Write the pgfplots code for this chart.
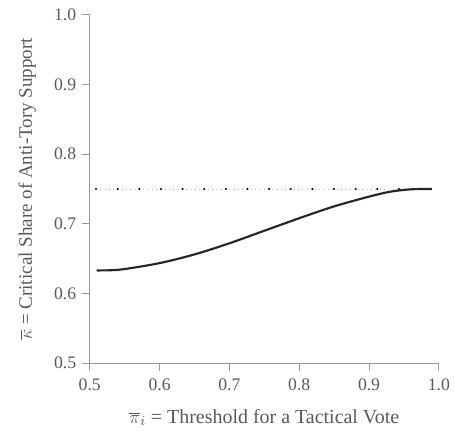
\documentclass[border=0pt]{standalone}
\usepackage{fontspec}
\setmainfont{Liberation Serif}
\usepackage{pgfplots}
\pgfplotsset{compat=1.18}
\definecolor{axgray}{gray}{0.6}
\definecolor{txtgray}{gray}{0.35}
\begin{document}
\begin{tikzpicture}
\path (-58.5pt,-42.9pt) rectangle (237.25pt,236.6pt);
\begin{axis}[
  at={(0,0)}, anchor=south west,
  scale only axis, width=227.5pt, height=226.9pt,
  xmin=0.5, xmax=1.0, ymin=0.5, ymax=1.0,
  axis x line*=bottom, axis y line*=left,
  axis line style={axgray, line width=0.5pt, -},
  xtick={0.5,0.6,...,1.0}, ytick={0.5,0.6,...,1.0},
  tick align=outside, major tick length=5.3pt,
  tick style={axgray, line width=0.5pt},
  /pgf/number format/assume math mode=true,
  /pgf/number format/.cd, fixed, fixed zerofill, precision=1, /pgfplots/.cd,
  tick label style={font=\fontsize{11.5}{13}\selectfont, text=txtgray},
  xticklabel style={yshift=-1.5pt},
  xlabel={$\overline{\pi}_i$ = Threshold for a Tactical Vote},
  ylabel={$\overline{\kappa}$ = Critical Share of Anti-Tory Support},
  xlabel style={font=\fontsize{13}{15}\selectfont, text=txtgray, yshift=-5pt},
  ylabel style={font=\fontsize{12.4}{14}\selectfont, text=txtgray, yshift=5pt},
  clip=false,
]
\addplot[gray!60, line width=0.4pt, dash pattern=on 0.6pt off 2.2pt] coordinates {(0.509,0.75) (0.99,0.75)};
\addplot[black, line width=1.5pt, line cap=round, dash pattern=on 0pt off 14.1pt] coordinates {(0.509,0.75) (0.99,0.75)};
\addplot[black!85, line width=1.4pt, smooth] coordinates {
(0.51,0.633) (0.53,0.6333) (0.55,0.635) (0.60,0.6435) (0.65,0.656) (0.70,0.672)
(0.75,0.690) (0.80,0.708) (0.85,0.725) (0.90,0.739) (0.93,0.746) (0.96,0.7495) (0.99,0.750)};
\end{axis}
\end{tikzpicture}
\end{document}
